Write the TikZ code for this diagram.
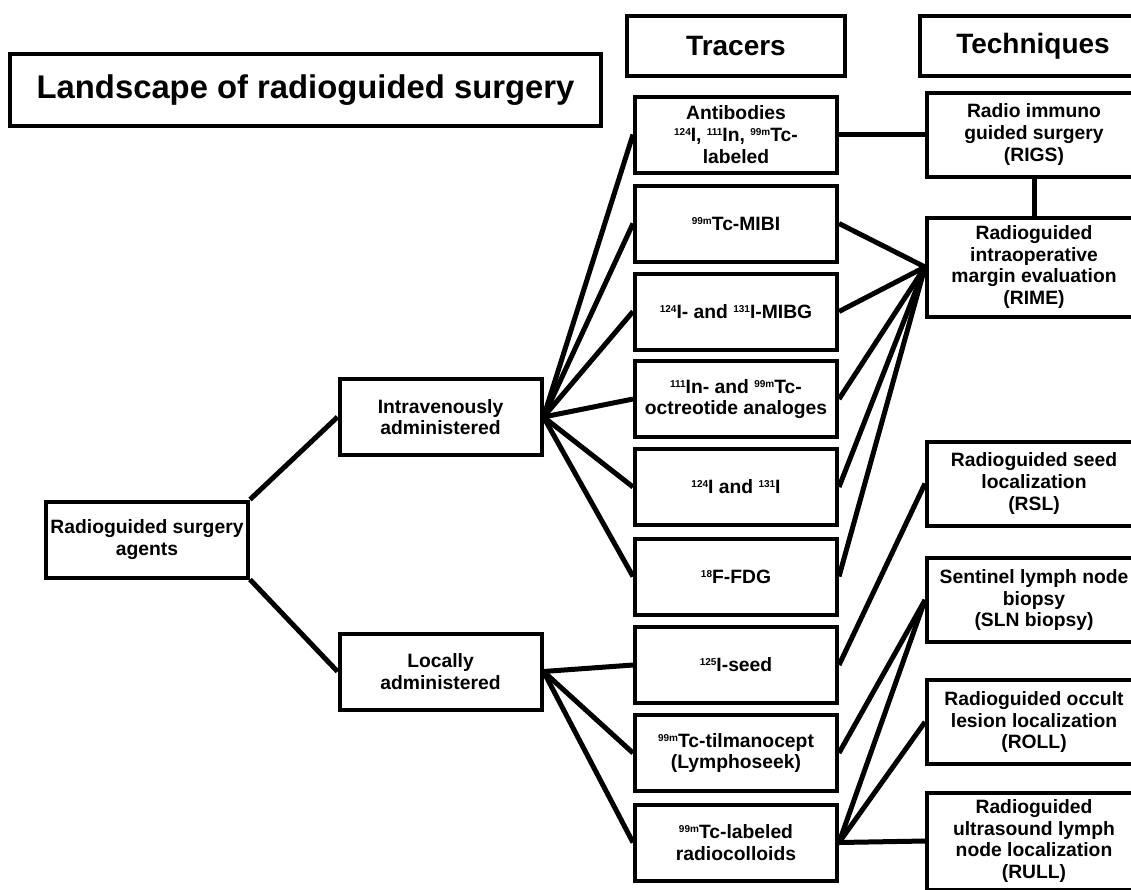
\documentclass[tikz,border=0pt]{standalone}
\usepackage{fontspec}
\setmainfont{Liberation Sans}
\usepackage{tikz}
\tikzset{%
   box/.style={
      draw,
      line width=4pt,
      align=center,
      inner sep=0pt,
      minimum width=202pt,
      minimum height=76pt,
      font=\bfseries\fontsize{19.3}{21.7}\selectfont
   },
   tbox/.style={
      box,
      minimum width=214pt
   },
   colhead/.style={
      box,
      minimum width=218pt,
      minimum height=60pt,
      font=\bfseries\fontsize{28}{32}\selectfont
   },
   banner/.style={
      box,
      minimum width=591pt,
      minimum height=72pt,
      font=\bfseries\fontsize{32.8}{36}\selectfont
   },
   link/.style={
      line width=5pt
   },
}
\newcommand\iso[1]{%
  \raisebox{6pt}{\fontsize{10}{10}\selectfont #1}%
}

\begin{document}
\begin{tikzpicture}[x=1pt, y=-1pt]
      \useasboundingbox (0,0) rectangle (1131,889);
      \node[banner] (ttl) at (305.5,90) {Landscape of radioguided surgery};
      \node[colhead] (trc) at (736,46) {Tracers};
      \node[colhead, minimum width=226pt] (tec) at (1033,46) {Techniques};
      % agents
      \node[box] (agt) at (147,539.5) {Radioguided surgery\\agents};
      \node[box] (iv) at (440.5,417) {Intravenously\\administered};
      \node[box] (loc) at (440.5,671.5) {Locally\\administered};
      % tracers
      \node[box] (ab) at (736,134.5) {Antibodies\\\iso{124}I, \iso{111}In, \iso{99m}Tc-\\labeled};
      \node[box] (mibi) at (736,223.5) {\iso{99m}Tc-MIBI};
      \node[box] (mibg) at (736,311.5) {\iso{124}I- and \iso{131}I-MIBG};
      \node[box] (oct) at (736,399) {\iso{111}In- and \iso{99m}Tc-\\octreotide analoges};
      \node[box] (iod) at (736,487) {\iso{124}I and \iso{131}I};
      \node[box] (fdg) at (736,576.5) {\iso{18}F-FDG};
      \node[box] (seed) at (736,665) {\iso{125}I-seed};
      \node[box] (tilm) at (736,753) {\iso{99m}Tc-tilmanocept\\(Lymphoseek)};
      \node[box] (coll) at (736,842.5) {\iso{99m}Tc-labeled\\radiocolloids};
      % techniques
      \node[tbox, minimum height=84pt] (rigs) at (1034,134.5) {Radio immuno\\guided surgery\\(RIGS)};
      \node[tbox, minimum height=99pt] (rime) at (1034,267) {Radioguided\\intraoperative\\margin evaluation\\(RIME)};
      \node[tbox, minimum height=84pt] (rsl) at (1034,483.5) {Radioguided seed\\localization\\(RSL)};
      \node[tbox, minimum height=84pt] (sln) at (1034,600) {Sentinel lymph node\\biopsy\\(SLN biopsy)};
      \node[tbox, minimum height=84pt] (roll) at (1034,722) {Radioguided occult\\lesion localization\\(ROLL)};
      \node[tbox, minimum height=97pt] (rull) at (1034,841) {Radioguided\\ultrasound lymph\\node localization\\(RULL)};
      % links
      \draw[link] (agt.north east) -- (iv.west);
      \draw[link] (agt.south east) -- (loc.west);
      \draw[link] (iv.east) -- (ab.west);
      \draw[link] (iv.east) -- (mibi.west);
      \draw[link] (iv.east) -- (mibg.west);
      \draw[link] (iv.east) -- (oct.west);
      \draw[link] (iv.east) -- (iod.west);
      \draw[link] (iv.east) -- (fdg.west);
      \draw[link] (loc.east) -- (seed.west);
      \draw[link] (loc.east) -- (tilm.west);
      \draw[link] (loc.east) -- (coll.west);
      \draw[link] (ab.east) -- (rigs.west);
      \draw[link] (rigs.south) -- (rime.north);
      \draw[link] (mibi.east) -- (rime.west);
      \draw[link] (mibg.east) -- (rime.west);
      \draw[link] (oct.east) -- (rime.west);
      \draw[link] (iod.east) -- (rime.west);
      \draw[link] (fdg.east) -- (rime.west);
      \draw[link] (seed.east) -- (rsl.west);
      \draw[link] (tilm.east) -- (sln.west);
      \draw[link] (coll.east) -- (sln.west);
      \draw[link] (coll.east) -- (roll.west);
      \draw[link] (coll.east) -- (rull.west);
\end{tikzpicture}
\end{document}
